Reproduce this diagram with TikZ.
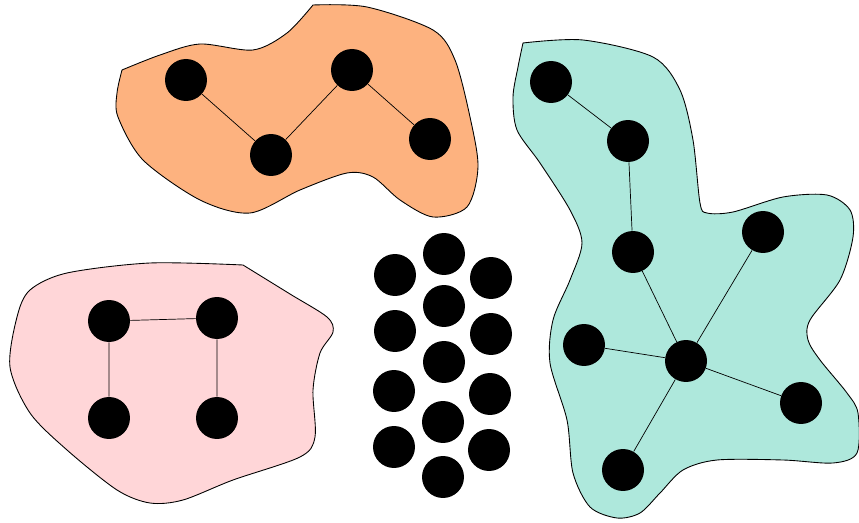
\documentclass[tikz,border=0pt]{standalone}
\usepackage{tikz}
\usepackage{xcolor}
\usetikzlibrary{positioning}

\definecolor{orangezone}{RGB}{253,178,127}
\definecolor{tealzone}{RGB}{174,232,220}
\definecolor{pinkzone}{RGB}{255,214,216}

\begin{document}
\begin{tikzpicture}[x=0.02cm, y=-0.02cm,
        dot/.style={circle, fill=black, minimum size=0.84cm, inner sep=0pt},
        zone/.style={draw=black, line width=0.5pt}]
        \useasboundingbox (0,0) rectangle (859,523);

        % Orange zone
        \filldraw[zone, fill=orangezone] plot[smooth] coordinates {(122,70) (160,55) (200,44) (253,50) (287,33) (313,5)}
            -- plot[smooth] coordinates {(313,5) (367,7) (433,30) (455,60) (470,117) (478,167) (467,207) (433,217) (400,200) (373,177) (347,173) (300,190) (250,213) (200,200) (143,160) (118,117) (117,93) (122,70)} -- cycle;
        \node[dot] (o1) at (186,80) {};
        \node[dot] (o2) at (271,155) {};
        \node[dot] (o3) at (352,70) {};
        \node[dot] (o4) at (430,139) {};
        \draw (o1) -- (o2) -- (o3) -- (o4);

        % Teal zone
        \filldraw[zone, fill=tealzone] plot[smooth] coordinates {(523,43) (583,40) (653,57) (680,90) (693,140) (700,203) (707,213) (733,212) (783,197) (827,195) (850,210) (853,237) (840,280) (810,320) (808,340) (820,360) (847,393) (858,413) (857,453) (833,463) (783,460) (717,460) (683,470) (660,493) (640,513) (617,518) (590,507) (573,473) (567,420) (550,363) (553,320) (570,280) (582,243) (570,210) (540,163) (517,130) (513,97) (518,67) (523,43)} -- cycle;
        \node[dot] (t1) at (551,82) {};
        \node[dot] (t2) at (628,141) {};
        \node[dot] (t3) at (633,252) {};
        \node[dot] (t4) at (763,232) {};
        \node[dot] (t5) at (584,345) {};
        \node[dot] (hub) at (686,361) {};
        \node[dot] (t7) at (801,403) {};
        \node[dot] (t8) at (623,470) {};
        \draw (t1) -- (t2) -- (t3) -- (hub);
        \draw (t4) -- (hub);
        \draw (t5) -- (hub);
        \draw (hub) -- (t7);
        \draw (hub) -- (t8);

        % Pink zone
        \filldraw[zone, fill=pinkzone] (243,265) -- plot[smooth] coordinates {(243,265) (290,294) (327,317) (333,332) (320,353) (313,390) (315,437) (300,457) (233,480) (183,500) (150,503) (117,490) (67,450) (30,413) (10,367) (17,317) (30,290) (67,273) (150,263) (243,265)} -- cycle;
        \node[dot] (p1) at (109,321) {};
        \node[dot] (p2) at (217,318) {};
        \node[dot] (p3) at (109,418) {};
        \node[dot] (p4) at (217,418) {};
        \draw (p3) -- (p1) -- (p2) -- (p4);

        % Loose dots
        \node[dot] (m1) at (395,275) {};
        \node[dot] (m2) at (395,331) {};
        \node[dot] (m3) at (394,391) {};
        \node[dot] (m4) at (394,447) {};
        \node[dot] (m5) at (444,254) {};
        \node[dot] (m6) at (444,306) {};
        \node[dot] (m7) at (444,362) {};
        \node[dot] (m8) at (443,422) {};
        \node[dot] (m9) at (443,477) {};
        \node[dot] (m10) at (491,278) {};
        \node[dot] (m11) at (491,334) {};
        \node[dot] (m12) at (490,394) {};
        \node[dot] (m13) at (489,450) {};
    \end{tikzpicture}
\end{document}
